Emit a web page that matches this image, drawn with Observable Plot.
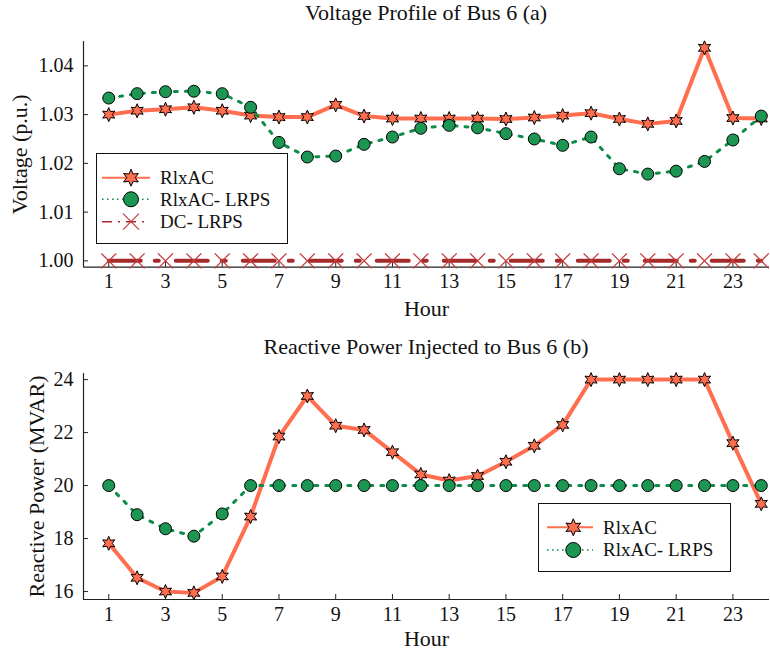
<!DOCTYPE html>
<html><head><meta charset="utf-8">
<script src="https://cdn.jsdelivr.net/npm/d3@7"></script>
<script src="https://cdn.jsdelivr.net/npm/@observablehq/plot@0.6"></script>
<style>
body{margin:0;background:#fff;font-family:"Liberation Serif",serif;}
#wrap{position:relative;width:770px;height:654px;overflow:hidden;}
.title{height:26px;line-height:25px;font-size:22px;margin-left:83px;width:686px;text-align:center;color:#111;white-space:nowrap;overflow:hidden;}
.legend{position:absolute;}
svg{display:block}
</style></head><body><div id="wrap"></div>
<script>
// ---------- data ----------
const hours = [1,2,3,4,5,6,7,8,9,10,11,12,13,14,15,16,17,18,19,20,21,22,23,24];
const hourTicks = [1,3,5,7,9,11,13,15,17,19,21,23];

const voltRlxAC = [1.0300,1.0308,1.0311,1.0315,1.0308,1.0298,1.0295,1.0295,1.0320,1.0297,1.0292,1.0292,
                   1.0292,1.0292,1.0291,1.0294,1.0298,1.0303,1.0291,1.0281,1.0287,1.0437,1.0293,1.0292];
const voltRlxLRPS = [1.0334,1.0343,1.0347,1.0348,1.0343,1.0315,1.0243,1.0213,1.0215,1.0239,1.0254,1.0272,
                     1.0278,1.0273,1.0261,1.0250,1.0237,1.0254,1.0189,1.0178,1.0184,1.0204,1.0248,1.0297];
const voltDcLRPS = [1,1,1,1,1,1,1,1,1,1,1,1,1,1,1,1,1,1,1,1,1,1,1,1];
const voltTicks = [1.00,1.01,1.02,1.03,1.04];

const qRlxAC = [17.82,16.52,16.00,15.95,16.57,18.83,21.85,23.38,22.26,22.10,21.26,20.42,
                20.19,20.36,20.90,21.50,22.29,24.00,24.00,24.00,24.00,24.00,21.60,19.31];
const qRlxLRPS = [20.00,18.90,18.37,18.09,18.93,20,20,20,20,20,20,20,
                  20,20,20,20,20,20,20,20,20,20,20,20];
const qTicks = [16,18,20,22,24];

const seriesNames = ["RlxAC","RlxAC- LRPS","DC- LRPS"];
const titles = ["Voltage Profile of Bus 6 (a)","Reactive Power Injected to Bus 6 (b)"];
const yLabels = ["Voltage (p.u.)","Reactive Power (MVAR)"];
const xLabel = "Hour";

// ---------- styles ----------
const C_RED = "#ff6e4f", C_GREEN_FILL = "#1d9653", C_GREEN_LINE = "#0c8c48", C_BROWN = "#a52a2a", C_X = "#c43c3c";
const FONT = "Liberation Serif";

const star6 = {draw(ctx, size){
  const r = Math.sqrt(size/Math.PI), ri = r*0.5;
  for (let i=0;i<12;i++){const a=Math.PI*i/6-Math.PI/2, rr=i%2?ri:r, x=rr*Math.cos(a), y=rr*Math.sin(a); i?ctx.lineTo(x,y):ctx.moveTo(x,y);}
  ctx.closePath();
}};
const cross = {draw(ctx, size){
  const r = Math.sqrt(size/Math.PI);
  ctx.moveTo(-r,-r); ctx.lineTo(r,r); ctx.moveTo(r,-r); ctx.lineTo(-r,r);
}};

const xDomain = [0.11, 24.29];
const vDomain = [0.9987, 1.045];
const qDomain = [15.70, 24.23];

const wrap = document.getElementById("wrap");
function addTitle(t){const d=document.createElement("div");d.className="title";d.textContent=t;wrap.appendChild(d);}

function common(yTicks, yFmt, yDomain, ylab, labDx, hourDy){
  return [
    Plot.ruleX([xDomain[0]], {stroke:"#222", strokeWidth:1.2}),
    Plot.ruleY([yDomain[0]], {stroke:"#222", strokeWidth:1.2}),
    Plot.axisX(hourTicks, {tickSize:-5, tickPadding:12, label:null, tickFormat:d=>String(d), stroke:"#222", fill:"#111"}),
    Plot.axisY(yTicks, {tickSize:-5, tickPadding:15, label:null, tickFormat:yFmt, stroke:"#222", fill:"#111"}),
    Plot.text([xLabel], {frameAnchor:"bottom", dy:hourDy, textAnchor:"middle", lineAnchor:"middle", fill:"#111", fontSize:22}),
    Plot.text([ylab], {frameAnchor:"left", rotate:-90, dx:labDx, textAnchor:"middle", lineAnchor:"middle", fill:"#111", fontSize:22})
  ];
}

// ---------- panel (a) ----------
addTitle(titles[0]);
const dataV = hours.map((h,i)=>({h, a:voltRlxAC[i], b:voltRlxLRPS[i], c:voltDcLRPS[i]}));
const p1 = Plot.plot({
  width:770, height:308, marginLeft:83, marginRight:1, marginTop:15, marginBottom:67.3,
  style:{fontFamily:FONT, fontSize:"20px", background:"transparent", color:"#111", overflow:"visible"},
  x:{domain:xDomain}, y:{domain:vDomain},
  marks:[
    ...common(voltTicks, d3.format(".2f"), vDomain, yLabels[0], -63.3, 41.3),
    Plot.line(dataV, {x:"h", y:"a", stroke:C_RED, strokeWidth:4}),
    Plot.dot(dataV, {x:"h", y:"a", symbol:star6, r:7, fill:C_RED, stroke:"#000", strokeWidth:1}),
    Plot.line(dataV, {x:"h", y:"b", stroke:C_GREEN_LINE, strokeWidth:3, strokeDasharray:"3,8"}),
    Plot.dot(dataV, {x:"h", y:"b", r:6, fill:C_GREEN_FILL, stroke:"#000", strokeWidth:1}),
    Plot.line(dataV, {x:"h", y:"c", stroke:C_BROWN, strokeWidth:4, strokeDasharray:"32,14,4,17"}),
    Plot.dot(dataV, {x:"h", y:"c", symbol:cross, r:7.5, fill:"none", stroke:C_X, strokeWidth:1.3})
  ]
});
wrap.appendChild(p1);

// ---------- panel (b) ----------
addTitle(titles[1]);
const dataQ = hours.map((h,i)=>({h, a:qRlxAC[i], b:qRlxLRPS[i]}));
const p2 = Plot.plot({
  width:770, height:294, marginLeft:83, marginRight:1, marginTop:13, marginBottom:55,
  style:{fontFamily:FONT, fontSize:"20px", background:"transparent", color:"#111", overflow:"visible"},
  x:{domain:xDomain}, y:{domain:qDomain},
  marks:[
    ...common(qTicks, d3.format("d"), qDomain, yLabels[1], -46.7, 39),
    Plot.line(dataQ, {x:"h", y:"a", stroke:C_RED, strokeWidth:4}),
    Plot.dot(dataQ, {x:"h", y:"a", symbol:star6, r:7, fill:C_RED, stroke:"#000", strokeWidth:1}),
    Plot.line(dataQ, {x:"h", y:"b", stroke:C_GREEN_LINE, strokeWidth:3, strokeDasharray:"3,8"}),
    Plot.dot(dataQ, {x:"h", y:"b", r:6, fill:C_GREEN_FILL, stroke:"#000", strokeWidth:1})
  ]
});
wrap.appendChild(p2);

// ---------- legends ----------
function legend(left, top, w, h, rows){
  const svg = d3.select(wrap).append("svg").attr("class","legend")
    .style("left",left+"px").style("top",top+"px").attr("width",w).attr("height",h);
  svg.append("rect").attr("x",0.5).attr("y",0.5).attr("width",w-1).attr("height",h-1)
    .attr("fill","#fff").attr("stroke","#111").attr("stroke-width",1);
  rows.forEach((r)=>{
    const y = r.y;
    const g = svg.append("g");
    g.append("line").attr("x1",r.x1).attr("x2",r.x2).attr("y1",y).attr("y2",y)
      .attr("stroke",r.lineColor).attr("stroke-width",r.lw).attr("stroke-dasharray",r.dash||null);
    const path = d3.path(); r.sym.draw(path, Math.PI*r.r*r.r);
    g.append("path").attr("d",path.toString()).attr("transform",`translate(${r.xm},${y})`)
      .attr("fill",r.fill).attr("stroke",r.stroke).attr("stroke-width",r.sw);
    g.append("text").attr("x",r.xt).attr("y",y).attr("dy","0.33em").attr("font-family",FONT)
      .attr("font-size",19).attr("fill","#111").text(r.name);
  });
}
const circleSym = {draw(ctx,size){const r=Math.sqrt(size/Math.PI); ctx.moveTo(r,0); ctx.arc(0,0,r,0,2*Math.PI);}};
legend(96,153,192,91,[
  {name:seriesNames[0], y:24.7, x1:6, x2:54, xm:35, xt:64, lineColor:C_RED, lw:2, sym:star6, r:8.5, fill:C_RED, stroke:"#000", sw:1},
  {name:seriesNames[1], y:46.3, x1:6, x2:54, xm:35, xt:64, lineColor:C_GREEN_LINE, lw:1.5, dash:"1.5,3.5", sym:circleSym, r:7.5, fill:C_GREEN_FILL, stroke:"#000", sw:1},
  {name:seriesNames[2], y:68.7, x1:6, x2:54, xm:35, xt:64, lineColor:C_BROWN, lw:1.5, dash:"10,6,2,6", sym:cross, r:8, fill:"none", stroke:C_X, sw:1.2}
]);
legend(538,503,193,69,[
  {name:seriesNames[0], y:24.3, x1:9, x2:55, xm:35.3, xt:65, lineColor:C_RED, lw:2, sym:star6, r:8.5, fill:C_RED, stroke:"#000", sw:1},
  {name:seriesNames[1], y:47, x1:9, x2:55, xm:35.3, xt:65, lineColor:C_GREEN_LINE, lw:1.5, dash:"1.5,3.5", sym:circleSym, r:7.5, fill:C_GREEN_FILL, stroke:"#000", sw:1}
]);
</script></body></html>
